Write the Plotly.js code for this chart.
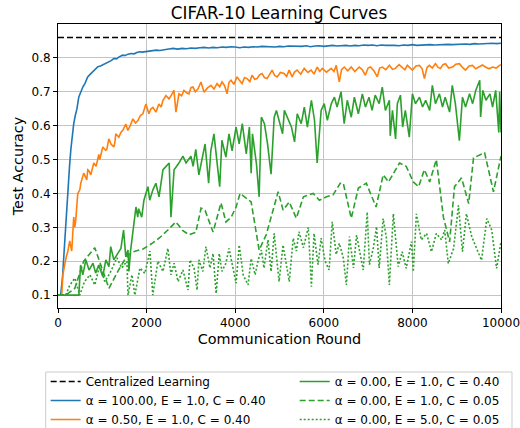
<!DOCTYPE html>
<html><head><meta charset="utf-8">
<script src="https://cdn.plot.ly/plotly-3.0.1.min.js"></script>
<style>html,body{margin:0;padding:0;background:#fff}#chart{width:520px;height:428px}</style>
</head><body><div id="chart"></div>
<script>
// ---- data ----
const centralRounds = [0, 10000];
const centralAcc = [0.86, 0.86];

const a100Rounds = [
  0,60,100,140,180,220,260,290,320,355,
  390,425,470,510,560,610,670,730,790,850,
  900,960,1020,1080,1140,1200,1260,1320,1380,1460,
  1520,1580,1650,1720,1780,1840,1900,1980,2060,2140,
  2220,2300,
  2400,2500,2600,2700,2800,2900,3000,3100,3200,3300,
  3400,3500,3600,3700,3800,3900,4000,4100,4200,4300,
  4400,4500,4600,4700,4800,4900,5000,5100,5200,5300,
  5400,5500,5600,5700,5800,5900,6000,6100,6200,6300,
  6400,6500,6600,6700,6800,6900,7000,7100,7200,7300,
  7400,7500,7600,7700,7800,7900,8000,8100,8200,8300,
  8400,8500,8600,8700,8800,8900,9000,9100,9200,9300,
  9400,9500,9600,9700,9800,9900,10000];
const a100Acc = [
  0.100,0.100,0.150,0.240,0.320,0.400,0.480,0.530,0.570,0.606,
  0.630,0.648,0.685,0.700,0.714,0.725,0.744,0.752,0.760,0.768,
  0.774,0.776,0.780,0.783,0.788,0.792,0.798,0.797,0.803,0.808,
  0.807,0.811,0.813,0.812,0.816,0.818,0.817,0.819,0.820,0.822,
  0.823,0.822,
  0.825,0.826,0.828,0.826,0.828,0.827,0.829,0.828,0.830,0.831,
  0.829,0.831,0.830,0.832,0.831,0.833,0.832,0.830,0.832,0.831,
  0.833,0.832,0.834,0.833,0.834,0.832,0.834,0.833,0.835,0.834,
  0.835,0.834,0.836,0.833,0.835,0.836,0.834,0.835,0.837,0.835,
  0.836,0.837,0.835,0.837,0.836,0.838,0.837,0.838,0.836,0.838,
  0.837,0.838,0.837,0.836,0.838,0.837,0.839,0.837,0.838,0.837,
  0.839,0.838,0.839,0.838,0.840,0.839,0.840,0.839,0.841,0.840,
  0.842,0.841,0.842,0.841,0.843,0.842,0.843];

const a05Rounds = [
  0,60,84,110,130,152,190,219,265,310,
  355,378,400,446,491,514,581,649,672,694,
  740,808,860,898,921,943,1011,1079,1102,1147,
  1200,1260,1283,1305,1373,1420,1463,1531,1577,1630,
  1690,1750,1803,1860,1916,1984,2052,2100,2142,2210,
  2278,2330,2368,2436,2504,2560,2617,2663,2730,2790,
  2843,2900,2956,3000,3047,3100,3160,3228,3296,3380,
  3454,3520,3590,3650,3703,3760,3816,3860,3906,3970,
  4042,4100,4155,4210,4268,4330,4381,4440,4494,4550,
  4607,4660,4720,4780,4833,4890,4946,5020,5104,5160,
  5217,5285,5340,5398,5480,5557,5640,5715,5780,5851,
  5910,5964,6060,6168,6230,6281,6349,6400,6462,6540,
  6620,6700,6801,6870,6937,7000,7050,7130,7208,7260,
  7321,7400,7480,7550,7615,7700,7774,7830,7887,7940,
  8000,8080,8158,8220,8271,8330,8384,8450,8520,8580,
  8633,8690,8746,8820,8904,8980,9062,9130,9198,9280,
  9356,9430,9515,9580,9650,9730,9809,9890,9967,10000];
const a05Acc = [
  0.100,0.100,0.100,0.160,0.180,0.190,0.215,0.227,0.260,0.230,
  0.330,0.300,0.320,0.400,0.410,0.430,0.460,0.440,0.470,0.468,
  0.455,0.490,0.480,0.497,0.515,0.500,0.537,0.527,0.530,0.561,
  0.545,0.537,0.550,0.576,0.566,0.580,0.586,0.605,0.586,0.600,
  0.620,0.608,0.615,0.630,0.635,0.664,0.635,0.650,0.654,0.640,
  0.664,0.655,0.674,0.689,0.679,0.690,0.704,0.640,0.694,0.688,
  0.704,0.697,0.694,0.712,0.714,0.700,0.709,0.729,0.699,0.712,
  0.719,0.708,0.724,0.715,0.729,0.718,0.694,0.728,0.734,0.722,
  0.744,0.733,0.724,0.742,0.739,0.730,0.749,0.737,0.739,0.750,
  0.754,0.742,0.739,0.752,0.764,0.748,0.744,0.757,0.754,0.745,
  0.764,0.744,0.758,0.764,0.752,0.769,0.757,0.764,0.752,0.773,
  0.760,0.769,0.758,0.769,0.760,0.778,0.729,0.765,0.773,0.762,
  0.773,0.760,0.773,0.765,0.749,0.770,0.773,0.762,0.744,0.770,
  0.773,0.765,0.778,0.766,0.769,0.780,0.773,0.765,0.778,0.770,
  0.764,0.776,0.778,0.768,0.739,0.772,0.778,0.770,0.783,0.772,
  0.769,0.780,0.783,0.770,0.773,0.781,0.783,0.772,0.764,0.776,
  0.778,0.768,0.773,0.779,0.773,0.768,0.773,0.770,0.778,0.780];

const a0E1C40Rounds = [
  0,200,400,470,510,560,630,700,790,850,
  920,1010,1080,1150,1190,1260,1350,1420,1480,1530,
  1580,1600,1640,1690,1710,1760,1800,1820,1890,1940,
  2030,2070,2140,2210,2280,2370,2440,2510,2550,2620,
  2730,2820,2890,3000,3050,3110,3180,3250,3320,3400,
  3450,3520,3590,3650,3700,3790,3860,3930,4020,4090,
  4160,4250,4320,4360,4390,4480,4540,4590,4660,4730,
  4810,4880,4930,5000,5070,5110,5180,5270,5340,5400,
  5490,5560,5630,5720,5790,5850,5940,6010,6080,6170,
  6240,6300,6390,6460,6530,6620,6690,6780,6870,6940,
  7020,7090,7160,7250,7320,7390,7480,7500,7550,7620,
  7660,7730,7780,7840,7930,8000,8070,8160,8230,8300,
  8390,8450,8520,8610,8680,8740,8840,8900,8970,9060,
  9130,9200,9290,9360,9430,9520,9540,9590,9660,9750,
  9810,9880,9950,9970,10000];
const a0E1C40Acc = [
  0.100,0.100,0.100,0.100,0.189,0.160,0.204,0.174,0.194,0.165,
  0.189,0.155,0.204,0.184,0.243,0.204,0.223,0.238,0.292,0.213,
  0.233,0.170,0.233,0.282,0.312,0.360,0.330,0.355,0.330,0.380,
  0.420,0.380,0.410,0.430,0.390,0.470,0.480,0.490,0.330,0.470,
  0.490,0.510,0.490,0.510,0.480,0.530,0.455,0.500,0.546,0.430,
  0.526,0.576,0.487,0.420,0.557,0.507,0.576,0.526,0.596,0.546,
  0.606,0.517,0.596,0.460,0.576,0.487,0.390,0.625,0.606,0.546,
  0.457,0.625,0.645,0.606,0.576,0.645,0.625,0.596,0.552,0.635,
  0.606,0.655,0.596,0.675,0.616,0.490,0.645,0.665,0.616,0.665,
  0.684,0.655,0.700,0.606,0.675,0.625,0.684,0.635,0.694,0.655,
  0.684,0.645,0.690,0.665,0.714,0.645,0.675,0.570,0.645,0.561,
  0.665,0.690,0.596,0.645,0.566,0.694,0.665,0.684,0.655,0.675,
  0.645,0.719,0.665,0.694,0.655,0.684,0.640,0.719,0.665,0.556,
  0.684,0.655,0.694,0.665,0.704,0.734,0.626,0.704,0.675,0.694,
  0.655,0.704,0.580,0.700,0.580];

const a0E1C05Rounds = [
  0,175,380,580,830,940,1080,1150,1350,1530,
  1670,1920,2140,2300,2480,2660,2820,2960,3110,3230,
  3320,3500,3680,3790,3910,4020,4110,4360,4540,4700,
  4970,5080,5220,5380,5540,5760,5900,6060,6210,6370,
  6440,6620,6780,6960,7180,7340,7460,7710,7860,8020,
  8140,8270,8390,8540,8700,8840,8950,9110,9270,9380,
  9630,9830,10000];
const a0E1C05Acc = [
  0.100,0.100,0.120,0.200,0.240,0.200,0.150,0.120,0.170,0.210,
  0.227,0.236,0.254,0.270,0.292,0.316,0.290,0.278,0.285,0.357,
  0.350,0.286,0.372,0.316,0.330,0.360,0.400,0.375,0.233,0.278,
  0.405,0.351,0.375,0.327,0.390,0.400,0.380,0.390,0.396,0.430,
  0.430,0.327,0.416,0.430,0.360,0.455,0.434,0.490,0.480,0.434,
  0.420,0.470,0.434,0.500,0.330,0.257,0.420,0.446,0.370,0.505,
  0.520,0.405,0.510];

const a0E5C05Rounds = [
  0,85,175,265,380,490,600,720,830,945,
  1055,1170,1330,1440,1555,1580,1670,1735,1850,1960,
  2075,2140,2255,2370,2480,2550,2620,2710,2820,2935,
  2980,3070,3140,3180,3270,3340,3430,3500,3570,3640,
  3700,3790,3860,3950,4020,4090,4180,4290,4360,4450,
  4520,4590,4650,4740,4810,4880,4950,4990,5080,5150,
  5220,5310,5380,5440,5540,5650,5720,5780,5870,5940,
  6030,6120,6190,6280,6350,6440,6510,6580,6670,6740,
  6810,6890,6980,7030,7120,7190,7250,7340,7410,7480,
  7570,7680,7770,7860,7980,8020,8090,8200,8320,8430,
  8540,8660,8730,8810,8930,9040,9130,9220,9340,9450,
  9560,9680,9790,9900,10000];
const a0E5C05Acc = [
  0.100,0.100,0.100,0.129,0.150,0.100,0.140,0.160,0.130,0.190,
  0.140,0.164,0.210,0.180,0.200,0.100,0.160,0.100,0.180,0.164,
  0.230,0.100,0.200,0.170,0.238,0.160,0.194,0.140,0.174,0.115,
  0.204,0.180,0.115,0.204,0.170,0.243,0.180,0.223,0.105,0.223,
  0.170,0.194,0.238,0.180,0.135,0.248,0.160,0.130,0.208,0.160,
  0.204,0.233,0.180,0.263,0.170,0.282,0.200,0.140,0.248,0.190,
  0.140,0.268,0.230,0.287,0.240,0.300,0.125,0.282,0.190,0.268,
  0.200,0.174,0.316,0.220,0.253,0.210,0.130,0.273,0.180,0.277,
  0.230,0.174,0.345,0.190,0.240,0.302,0.180,0.326,0.272,0.130,
  0.340,0.184,0.228,0.179,0.258,0.169,0.340,0.263,0.282,0.228,
  0.282,0.263,0.292,0.193,0.238,0.365,0.228,0.340,0.272,0.238,
  0.203,0.326,0.292,0.179,0.257];

const xTickVals = [0, 2000, 4000, 6000, 8000, 10000];
const xTickText = ['0', '2000', '4000', '6000', '8000', '10000'];
const yTickVals = [0.1, 0.2, 0.3, 0.4, 0.5, 0.6, 0.7, 0.8];
const yTickText = ['0.1', '0.2', '0.3', '0.4', '0.5', '0.6', '0.7', '0.8'];

const names = [
  'Centralized Learning',
  'α = 100.00, E = 1.0, C = 0.40',
  'α = 0.50, E = 1.0, C = 0.40',
  'α = 0.00, E = 1.0, C = 0.40',
  'α = 0.00, E = 1.0, C = 0.05',
  'α = 0.00, E = 5.0, C = 0.05'
];

// ---- chart ----
const FONT = 'DejaVu Sans, sans-serif';
const LW = 1.6;
const traces = [
  {x: centralRounds, y: centralAcc, name: names[0], legendrank: 1,
   line: {color: '#000000', width: LW, dash: '6px,3px'}},
  {x: a100Rounds, y: a100Acc, name: names[1], legendrank: 3,
   line: {color: '#1f77b4', width: LW}},
  {x: a05Rounds, y: a05Acc, name: names[2], legendrank: 5,
   line: {color: '#ff7f0e', width: LW}},
  {x: a0E1C40Rounds, y: a0E1C40Acc, name: names[3], legendrank: 2,
   line: {color: '#2ca02c', width: LW}},
  {x: a0E1C05Rounds, y: a0E1C05Acc, name: names[4], legendrank: 4,
   line: {color: '#2ca02c', width: LW, dash: '6px,3px'}},
  {x: a0E5C05Rounds, y: a0E5C05Acc, name: names[5], legendrank: 6,
   line: {color: '#2ca02c', width: LW, dash: '2px,2px'}}
].map(t => Object.assign({type: 'scatter', mode: 'lines', hoverinfo: 'skip'}, t));

const axisCommon = {
  showline: true, linecolor: '#000000', linewidth: 1, mirror: true,
  ticks: 'outside', ticklen: 4, tickwidth: 1, tickcolor: '#000000',
  showgrid: true, gridcolor: '#c4c4c4', gridwidth: 1, zeroline: false,
  ticklabeloverflow: 'allow',
  tickfont: {family: FONT, size: 12, color: '#000000'}
};

const layout = {
  width: 520, height: 428,
  margin: {l: 58, r: 19, t: 24, b: 120, autoexpand: false},
  paper_bgcolor: '#ffffff', plot_bgcolor: '#ffffff',
  font: {family: FONT, color: '#000000'},
  title: {text: 'CIFAR-10 Learning Curves', font: {family: FONT, size: 16.8, color: '#000000'},
          x: 0.5365, xanchor: 'center', y: 1 - 13 / 428, yanchor: 'middle', yref: 'container'},
  xaxis: Object.assign({}, axisCommon, {
    range: [0, 10000], tickvals: xTickVals, ticktext: xTickText, automargin: false,
    title: {text: 'Communication Round', font: {family: FONT, size: 14.4, color: '#000000'}, standoff: 4}
  }),
  yaxis: Object.assign({}, axisCommon, {
    range: [0.062, 0.9], tickvals: yTickVals, ticktext: yTickText, automargin: false,
    title: {text: 'Test Accuracy', font: {family: FONT, size: 14.4, color: '#000000'}, standoff: 4}
  }),
  showlegend: true,
  legend: {
    orientation: 'h', x: -0.0278, xanchor: 'left', y: -0.2077, yanchor: 'top',
    entrywidth: 204, bgcolor: 'rgba(0,0,0,0)', borderwidth: 0,
    font: {family: FONT, size: 12, color: '#000000'}, traceorder: 'normal'
  },
  shapes: [{
    type: 'rect', xref: 'paper', yref: 'paper',
    x0: -0.0278, x1: 1.0248, y0: -0.2254, y1: -0.45,
    line: {color: '#cccccc', width: 1}, fillcolor: '#ffffff', layer: 'below'
  }]
};

Plotly.newPlot('chart', traces, layout, {staticPlot: true, displayModeBar: false});
</script>
</body></html>
